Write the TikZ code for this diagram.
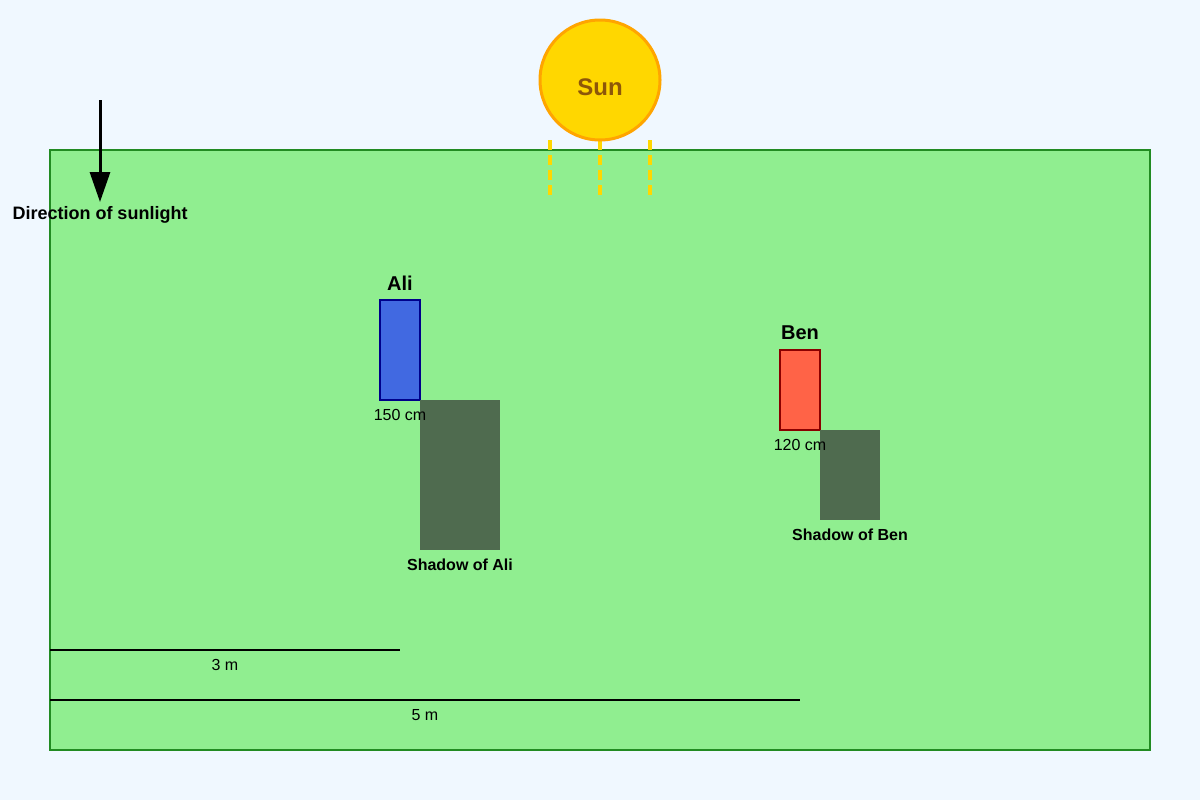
\documentclass[tikz,border=0pt]{standalone}
\usepackage{fontspec}
\setmainfont{Liberation Sans}
\usetikzlibrary{arrows.meta}
\definecolor{bg}{HTML}{F0F8FF}
\definecolor{grass}{HTML}{90EE90}
\definecolor{grassline}{HTML}{228B22}
\definecolor{sunfill}{HTML}{FFD700}
\definecolor{sunline}{HTML}{FFA500}
\definecolor{suntext}{HTML}{8D5609}
\definecolor{alifill}{HTML}{4169E1}
\definecolor{aliline}{HTML}{00008B}
\definecolor{benfill}{HTML}{FF6347}
\definecolor{benline}{HTML}{8B0000}
\definecolor{shadowc}{HTML}{4F6B4F}
\tikzset{
  every node/.style={outer sep=0pt},
  person/.style={draw, line width=2*0.75pt, inner sep=0pt, minimum width=40*0.75pt},
  shadowbox/.style={fill=shadowc, draw=none, inner sep=0pt},
  namelbl/.style={font=\bfseries\fontsize{15}{18}\selectfont, inner sep=0pt},
  smalllbl/.style={font=\fontsize{12}{14}\selectfont, inner sep=0pt},
  shadowlbl/.style={font=\bfseries\fontsize{12}{14}\selectfont, inner sep=0pt},
  ray/.style={draw=sunfill, line width=4*0.75pt, dash pattern=on 10*0.75pt off 5*0.75pt},
  scaleline/.style={draw=black, line width=2*0.75pt}
}
\begin{document}
\begin{tikzpicture}[x=0.75pt,y=-0.75pt]
\useasboundingbox (0,0) rectangle (1200,800);
\fill[bg] (0,0) rectangle (1200,800);
% ground
\node[draw=grassline, fill=grass, line width=2*0.75pt, minimum width=1100*0.75pt, minimum height=600*0.75pt, inner sep=0pt, anchor=north west] (ground) at (50,150) {};
% sun rays
\foreach \x/\n in {550/a,600/b,650/c}{
  \coordinate (r\n1) at (\x,140);
  \coordinate (r\n2) at (\x,195);
  \draw[ray] (r\n1) -- (r\n2);
}
% sun
\node[circle, draw=sunline, fill=sunfill, line width=3*0.75pt, minimum size=120*0.75pt, inner sep=0pt] (sun) at (600,80) {};
\node[font=\bfseries\fontsize{18}{22}\selectfont, text=suntext, inner sep=0pt] (suntxt) at (600,87) {Sun};
% direction arrow
\coordinate (arrS) at (100,100);
\coordinate (arrE) at (100,202);
\draw[line width=3*0.75pt, -{Triangle[length=30*0.75pt, width=20*0.75pt]}] (arrS) -- (arrE);
\node[font=\bfseries\fontsize{13.5}{16}\selectfont, inner sep=0pt] (dirlbl) at (100,215) {Direction of sunlight};
% Ali
\node[person, draw=aliline, fill=alifill, minimum height=100*0.75pt, anchor=north west] (ali) at (380,300) {};
\node[shadowbox, minimum width=80*0.75pt, minimum height=150*0.75pt, anchor=north west] (alish) at (420,400) {};
\node[namelbl] (alilbl) at (400,283) {Ali};
\node[smalllbl] (alih) at (400,415) {150 cm};
\node[shadowlbl] (alishl) at (460,565) {Shadow of Ali};
% Ben
\node[person, draw=benline, fill=benfill, minimum height=80*0.75pt, anchor=north west] (ben) at (780,350) {};
\node[shadowbox, minimum width=60*0.75pt, minimum height=90*0.75pt, anchor=north west] (bensh) at (820,430) {};
\node[namelbl] (benlbl) at (800,333) {Ben};
\node[smalllbl] (benh) at (800,445) {120 cm};
\node[shadowlbl] (benshl) at (850,535) {Shadow of Ben};
% scale lines
\coordinate (s3a) at (50,650);
\coordinate (s3b) at (400,650);
\coordinate (s5a) at (50,700);
\coordinate (s5b) at (800,700);
\draw[scaleline] (s3a) -- (s3b);
\draw[scaleline] (s5a) -- (s5b);
\node[smalllbl] (l3) at (225,665) {3 m};
\node[smalllbl] (l5) at (425,715) {5 m};
\end{tikzpicture}
\end{document}
